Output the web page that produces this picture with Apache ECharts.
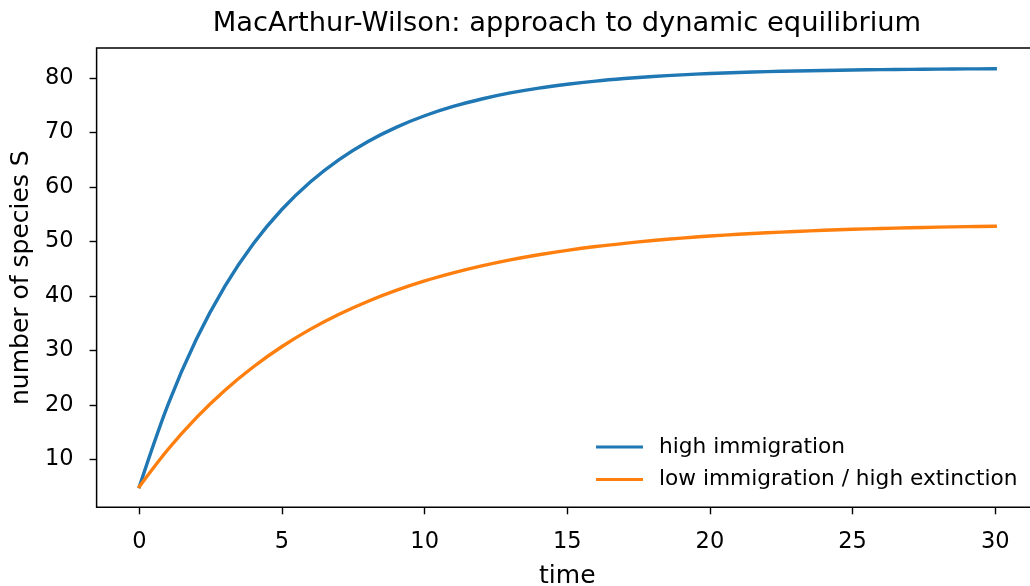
<!DOCTYPE html>
<html>
<head>
<meta charset="utf-8">
<title>MacArthur-Wilson: approach to dynamic equilibrium</title>
<script src="https://cdn.jsdelivr.net/npm/echarts@6/dist/echarts.min.js"></script>
<style>
  html, body { margin: 0; padding: 0; background: #ffffff; }
  #chart { width: 1030px; height: 586px; }
</style>
</head>
<body>
<div id="chart"></div>
<script>
// Time steps
const times = [0, 1, 2, 3, 4, 5, 6, 7, 8, 9, 10, 11, 12, 13, 14, 15,
               16, 17, 18, 19, 20, 21, 22, 23, 24, 25, 26, 27, 28, 29, 30];

// Species richness S(t) for each scenario
const highImmigration = [5.0, 20.0, 32.08, 41.79, 49.61, 55.90, 60.96, 65.03, 68.31, 70.94,
                         73.06, 74.77, 76.14, 77.25, 78.14, 78.85, 79.43, 79.89, 80.27, 80.57,
                         80.81, 81.00, 81.16, 81.28, 81.38, 81.47, 81.53, 81.58, 81.63, 81.66, 81.69];
const lowImmigrationHighExtinction = [5.0, 11.81, 17.66, 22.69, 27.00, 30.71, 33.90, 36.63, 38.98, 41.00,
                                      42.74, 44.22, 45.50, 46.60, 47.55, 48.36, 49.06, 49.65, 50.17, 50.61,
                                      50.99, 51.31, 51.59, 51.83, 52.04, 52.22, 52.37, 52.50, 52.62, 52.71, 52.79];

// Tick labels
const xTicks = [0, 5, 10, 15, 20, 25, 30];
const yTicks = [10, 20, 30, 40, 50, 60, 70, 80];

const seriesNames = ['high immigration', 'low immigration / high extinction'];
const seriesColors = ['#1f77b4', '#ff7f0e'];

const FONT = 'DejaVu Sans';

function pairs(ys) {
  return times.map((t, i) => [t, ys[i]]);
}

const chart = echarts.init(document.getElementById('chart'), null, { renderer: 'canvas' });

const axisCommon = {
  axisLine: { show: false, onZero: false },
  axisTick: { show: true, inside: false, length: 7, lineStyle: { color: '#000', width: 1.4 } },
  splitLine: { show: false },
  axisLabel: { color: '#000', fontFamily: FONT, fontSize: 22.5 },
  nameTextStyle: { color: '#000', fontFamily: FONT, fontSize: 25 }
};

chart.setOption({
  animation: false,
  backgroundColor: '#ffffff',
  title: {
    text: 'MacArthur-Wilson: approach to dynamic equilibrium',
    left: 567,
    top: 10,
    padding: 0,
    textAlign: 'center',
    textStyle: { color: '#000', fontFamily: FONT, fontSize: 27.3, fontWeight: 'normal' }
  },
  // The plot box runs slightly past the right edge of the canvas
  grid: {
    left: 96.6,
    top: 48,
    width: 941.4,
    bottom: 78.7,
    show: true,
    borderColor: '#000',
    borderWidth: 1.5,
    backgroundColor: 'transparent',
    containLabel: false,
    outerBoundsMode: 'none'
  },
  legend: {
    orient: 'vertical',
    left: 596,
    top: 436,
    padding: 0,
    itemWidth: 47,
    itemHeight: 3,
    itemGap: 10.4,
    icon: 'rect',
    data: seriesNames,
    textStyle: { color: '#000', fontFamily: FONT, fontSize: 21.7, lineHeight: 22, padding: [0, 0, 0, 11] }
  },
  xAxis: Object.assign({}, axisCommon, {
    type: 'value',
    min: -1.5,
    max: 31.5,
    name: 'time',
    nameLocation: 'middle',
    nameGap: 57,
    axisTick: Object.assign({}, axisCommon.axisTick, { customValues: xTicks }),
    axisLabel: Object.assign({}, axisCommon.axisLabel, { customValues: xTicks, margin: 23 })
  }),
  yAxis: Object.assign({}, axisCommon, {
    type: 'value',
    min: 1.2,
    max: 85.5,
    name: 'number of species S',
    nameLocation: 'middle',
    nameGap: 61,
    axisTick: Object.assign({}, axisCommon.axisTick, { customValues: yTicks }),
    axisLabel: Object.assign({}, axisCommon.axisLabel, { customValues: yTicks, margin: 23 })
  }),
  series: [
    {
      name: seriesNames[0],
      type: 'line',
      data: pairs(highImmigration),
      showSymbol: false,
      smooth: 0.35,
      color: seriesColors[0],
      lineStyle: { color: seriesColors[0], width: 3.4, cap: 'square' },
      z: 3
    },
    {
      name: seriesNames[1],
      type: 'line',
      data: pairs(lowImmigrationHighExtinction),
      showSymbol: false,
      smooth: 0.35,
      color: seriesColors[1],
      lineStyle: { color: seriesColors[1], width: 3.4, cap: 'square' },
      z: 4
    }
  ]
});
</script>
</body>
</html>
